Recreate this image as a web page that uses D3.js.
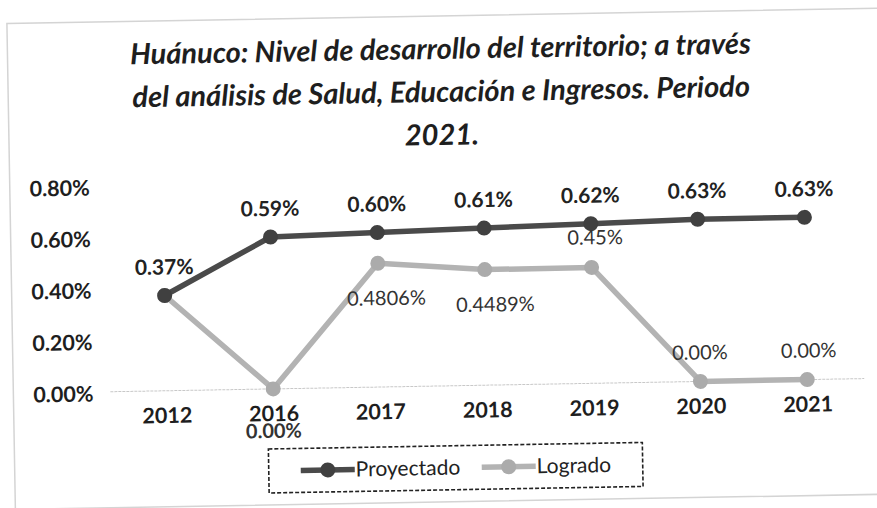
<!DOCTYPE html>
<html>
<head>
<meta charset="utf-8">
<script src="https://cdn.jsdelivr.net/npm/d3@7"></script>
<style>
body { margin: 0; background: #fff; }
text { font-family: Lato, "Open Sans", sans-serif; }
</style>
</head>
<body>
<script>
var width = 877;
var height = 508;

var years = ["2012", "2016", "2017", "2018", "2019", "2020", "2021"];
var proyectado = [0.0037, 0.0059, 0.0060, 0.0061, 0.0062, 0.0063, 0.0063];
var logrado = [0.0037, 0.0000, 0.004806, 0.004489, 0.0045, 0.0000, 0.0000];
var proyectadoLabels = ["0.37%", "0.59%", "0.60%", "0.61%", "0.62%", "0.63%", "0.63%"];
var logradoLabels = ["", "0.00%", "0.4806%", "0.4489%", "0.45%", "0.00%", "0.00%"];
var yTicks = [0, 0.002, 0.004, 0.006, 0.008];
var titleLines = [
    "Huánuco: Nivel de desarrollo del territorio; a través",
    "del análisis de Salud, Educación e Ingresos. Periodo",
    "2021."
];

var svg = d3.select("body").append("svg")
    .attr("width", width)
    .attr("height", height);

// the scan is slightly tilted
var g = svg.append("g")
    .attr("transform", "rotate(-1, 438, 254)");

g.append("rect")
    .attr("x", 11).attr("y", 16)
    .attr("width", 880).attr("height", 486)
    .attr("fill", "none")
    .attr("stroke", "#d4d4d4")
    .attr("stroke-width", 1.5);

g.selectAll(".title")
    .data(titleLines)
    .enter().append("text")
    .attr("x", 444)
    .attr("y", (d, i) => 59 + i * 43)
    .attr("text-anchor", "middle")
    .attr("font-size", 29)
    .attr("font-weight", "bold")
    .attr("font-style", "italic")
    .attr("fill", "#1e1e1e")
    .text(d => d);

var xScale = d3.scalePoint().domain(years).range([164, 805]);
var yScale = d3.scaleLinear().domain([0, 0.008]).range([386, 180]);

// only the zero gridline shows in the picture
g.append("line")
    .attr("x1", 108).attr("x2", 862)
    .attr("y1", yScale(0)).attr("y2", yScale(0))
    .attr("stroke", "#c8c8c8")
    .attr("stroke-width", 1)
    .attr("stroke-dasharray", "3,1");

var yAxis = d3.axisLeft(yScale)
    .tickValues(yTicks)
    .tickFormat(d3.format(".2%"))
    .tickSize(0)
    .tickPadding(0);

var yG = g.append("g")
    .attr("transform", "translate(91,2)")
    .call(yAxis);
yG.select(".domain").remove();
yG.selectAll("text")
    .attr("font-size", 21.5)
    .attr("font-weight", "bold")
    .attr("fill", "#1e1e1e")
    .attr("font-family", "Lato, sans-serif");

var xAxis = d3.axisBottom(xScale).tickSize(0).tickPadding(0);
var xG = g.append("g")
    .attr("transform", "translate(0,403)")
    .call(xAxis);
xG.select(".domain").remove();
xG.selectAll("text")
    .attr("font-size", 21.5)
    .attr("font-weight", "bold")
    .attr("fill", "#1e1e1e")
    .attr("font-family", "Lato, sans-serif");

var series = [
    { name: "Proyectado", values: proyectado, color: "#4a4a4a", dot: "#404040" },
    { name: "Logrado", values: logrado, color: "#b3b3b3", dot: "#ababab" }
];

var line = d3.line()
    .x((d, i) => xScale(years[i]))
    .y(d => yScale(d));

// draw Logrado first so Proyectado sits on top
series.slice().reverse().forEach(function (s) {
    g.append("path")
        .datum(s.values)
        .attr("fill", "none")
        .attr("stroke", s.color)
        .attr("stroke-width", 5.5)
        .attr("stroke-linejoin", "round")
        .attr("d", line);

    g.selectAll(".dot-" + s.name)
        .data(s.values)
        .enter().append("circle")
        .attr("cx", (d, i) => xScale(years[i]))
        .attr("cy", d => yScale(d))
        .attr("r", 7.5)
        .attr("fill", s.dot);
});

g.selectAll(".lab-p")
    .data(proyectado)
    .enter().append("text")
    .attr("x", (d, i) => xScale(years[i]))
    .attr("y", d => yScale(d) - 21)
    .attr("text-anchor", "middle")
    .attr("font-size", 21)
    .attr("font-weight", "bold")
    .attr("fill", "#222")
    .text((d, i) => proyectadoLabels[i]);

// label offsets for Logrado (dx, dy from the point)
var logradoDx = [0, 0, 8, 10, 4, 0, 2];
var logradoDy = [0, 49, 42, 42, -23, -22, -22];

g.selectAll(".lab-l")
    .data(logrado)
    .enter().append("text")
    .attr("x", (d, i) => xScale(years[i]) + logradoDx[i])
    .attr("y", (d, i) => yScale(d) + logradoDy[i])
    .attr("text-anchor", "middle")
    .attr("font-size", 20)
    .attr("font-weight", (d, i) => i == 1 ? "bold" : "normal")
    .attr("fill", "#333")
    .text((d, i) => logradoLabels[i]);

// legend
var legend = g.append("g").attr("transform", "translate(265,446)");
legend.append("rect")
    .attr("width", 374).attr("height", 44)
    .attr("fill", "none")
    .attr("stroke", "#222")
    .attr("stroke-width", 1.6)
    .attr("stroke-dasharray", "4,2");

var legendX = [32, 213];
series.forEach(function (s, i) {
    var item = legend.append("g").attr("transform", "translate(" + legendX[i] + ",22)");
    item.append("line")
        .attr("x1", 0).attr("x2", 54)
        .attr("stroke", s.color)
        .attr("stroke-width", 5.5);
    item.append("circle")
        .attr("cx", 27).attr("r", 7.5)
        .attr("fill", s.dot);
    item.append("text")
        .attr("x", 55).attr("y", 7)
        .attr("font-size", 21)
        .attr("fill", "#222")
        .text(s.name);
});
</script>
</body>
</html>
